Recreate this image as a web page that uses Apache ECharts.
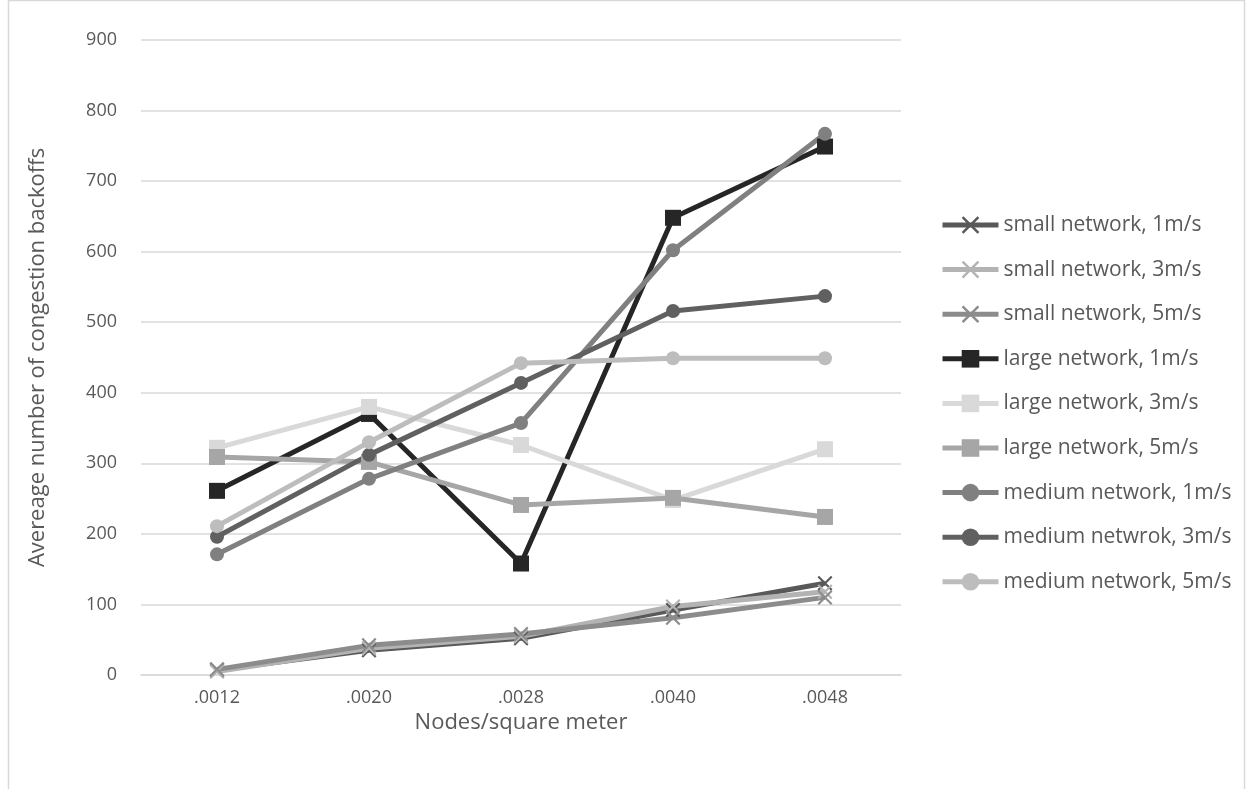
<!DOCTYPE html>
<html>
<head>
<meta charset="utf-8">
<script src="https://cdn.jsdelivr.net/npm/echarts@6/dist/echarts.min.js"></script>
<style>
  html, body { margin: 0; padding: 0; background: #fff; }
  #chart { width: 1253px; height: 789px; }
</style>
</head>
<body>
<div id="chart"></div>
<script>
// Node density categories (x axis)
const densities = ['.0012', '.0020', '.0028', '.0040', '.0048'];

// Average congestion backoffs per configuration
const smallNet1 = [7, 35, 52, 92, 130];
const smallNet3 = [5, 38, 55, 97, 118];
const smallNet5 = [8, 42, 58, 81, 110];
const largeNet1 = [261, 370, 158, 648, 749];
const largeNet3 = [322, 380, 326, 248, 320];
const largeNet5 = [309, 302, 241, 251, 224];
const mediumNet1 = [171, 278, 357, 602, 767];
const mediumNet3 = [196, 312, 414, 516, 537];
const mediumNet5 = [211, 330, 442, 449, 449];

const seriesNames = [
  'small network, 1m/s', 'small network, 3m/s', 'small network, 5m/s',
  'large network, 1m/s', 'large network, 3m/s', 'large network, 5m/s',
  'medium network, 1m/s', 'medium netwrok, 3m/s', 'medium network, 5m/s'
];

const FONT = '"Open Sans", "Noto Sans", sans-serif';
const TEXT = '#595959';

// Thin filled cross used as the "x" marker
const CROSS = 'path://M0,1 L1,0 L5,4 L9,0 L10,1 L6,5 L10,9 L9,10 L5,6 L1,10 L0,9 L4,5 Z';

function makeSeries(name, data, color, symbol, size) {
  return {
    name: name,
    type: 'line',
    data: data,
    symbol: symbol,
    symbolSize: size,
    showSymbol: true,
    lineStyle: { color: color, width: 5 },
    itemStyle: { color: color },
    emphasis: { disabled: true },
    animation: false
  };
}

const series = [
  makeSeries(seriesNames[0], smallNet1, '#595959', CROSS, 15),
  makeSeries(seriesNames[1], smallNet3, '#b3b3b3', CROSS, 15),
  makeSeries(seriesNames[2], smallNet5, '#8c8c8c', CROSS, 15),
  makeSeries(seriesNames[3], largeNet1, '#262626', 'rect', 16),
  makeSeries(seriesNames[4], largeNet3, '#d9d9d9', 'rect', 16),
  makeSeries(seriesNames[5], largeNet5, '#a6a6a6', 'rect', 16),
  makeSeries(seriesNames[6], mediumNet1, '#808080', 'circle', 14),
  makeSeries(seriesNames[7], mediumNet3, '#606060', 'circle', 14),
  makeSeries(seriesNames[8], mediumNet5, '#bdbdbd', 'circle', 14)
];

const chart = echarts.init(document.getElementById('chart'), null, { renderer: 'canvas' });
chart.setOption({
  backgroundColor: '#fff',
  animation: false,
  textStyle: { fontFamily: FONT },
  graphic: [{
    type: 'rect',
    shape: { x: 8.5, y: 0.5, width: 1236, height: 820 },
    style: { fill: 'none', stroke: '#d9d9d9', lineWidth: 1.5 },
    silent: true
  }],
  grid: { left: 141, right: 352, top: 40, bottom: 114 },
  legend: {
    orient: 'vertical',
    left: 935,
    top: 209,
    itemWidth: 56,
    itemHeight: 22,
    itemGap: 22.6,
    lineStyle: { width: 5 },
    textStyle: { color: TEXT, fontSize: 21, fontFamily: FONT, lineHeight: 22 },
    data: seriesNames
  },
  xAxis: {
    type: 'category',
    data: densities,
    boundaryGap: true,
    name: 'Nodes/square meter',
    nameLocation: 'middle',
    nameGap: 33,
    nameTextStyle: { color: TEXT, fontSize: 22, fontFamily: FONT },
    axisLine: { show: true, lineStyle: { color: '#d9d9d9', width: 1.5 } },
    axisTick: { show: false },
    axisLabel: { color: TEXT, fontSize: 18, margin: 14, fontFamily: FONT },
    splitLine: { show: false }
  },
  yAxis: {
    type: 'value',
    min: 0,
    max: 900,
    interval: 100,
    name: 'Avereage number of congestion backoffs',
    nameLocation: 'middle',
    nameGap: 92,
    nameTextStyle: { color: TEXT, fontSize: 22, fontFamily: FONT },
    axisLine: { show: false },
    axisTick: { show: false },
    axisLabel: { color: TEXT, fontSize: 18, margin: 24, fontFamily: FONT },
    splitLine: { lineStyle: { color: '#d9d9d9', width: 1.5 } }
  },
  series: series
});
</script>
</body>
</html>
